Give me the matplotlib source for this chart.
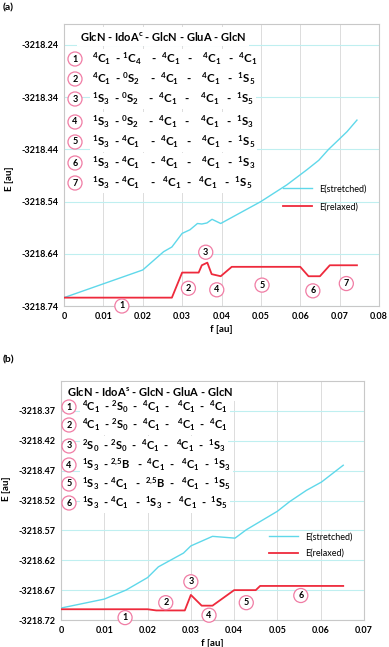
import matplotlib
matplotlib.use("Agg")
import matplotlib.pyplot as plt

plt.rcParams['font.family'] = ['Lato', 'DejaVu Sans']
plt.rcParams['mathtext.default'] = 'regular'

# panel (a)
fa_str = [0, 0.02, 0.0253, 0.0274, 0.030, 0.032, 0.0339, 0.035, 0.0363, 0.0376, 0.0398,
          0.05, 0.0566, 0.0617, 0.0647, 0.0672, 0.0697, 0.0719, 0.0744]
ea_str = [-3218.724, -3218.671, -3218.636, -3218.627, -3218.601, -3218.594, -3218.582,
          -3218.583, -3218.581, -3218.574, -3218.582, -3218.540, -3218.508, -3218.479,
          -3218.461, -3218.440, -3218.422, -3218.406, -3218.384]
fa_rel = [0, 0.0274, 0.030, 0.0342, 0.035, 0.0364, 0.0375, 0.0398, 0.0426, 0.060,
          0.0621, 0.065, 0.0675, 0.0744]
ea_rel = [-3218.724, -3218.724, -3218.676, -3218.676, -3218.662, -3218.657, -3218.679,
          -3218.683, -3218.665, -3218.665, -3218.683, -3218.683, -3218.662, -3218.662]
fa_lab = [0.0147, 0.0316, 0.036, 0.0388, 0.0503, 0.0632, 0.0717]
ea_lab = [-3218.740, -3218.706, -3218.637, -3218.709, -3218.700, -3218.711, -3218.697]
a_head = "GlcN - IdoA$^c$ - GlcN - GluA - GlcN"
a_rows = [
    "$^4$C$_1$  - $^1$C$_4$    -  $^4$C$_1$   -    $^4$C$_1$   -  $^4$C$_1$",
    "$^4$C$_1$  - $^0$S$_2$    -  $^4$C$_1$   -    $^4$C$_1$   -  $^1$S$_5$",
    "$^1$S$_3$  - $^0$S$_2$    -  $^4$C$_1$   -    $^4$C$_1$   -  $^1$S$_5$",
    "$^1$S$_3$  - $^0$S$_2$    -  $^4$C$_1$   -    $^4$C$_1$   -  $^1$S$_3$",
    "$^1$S$_3$  - $^4$C$_1$    -  $^4$C$_1$   -    $^4$C$_1$   -  $^1$S$_5$",
    "$^1$S$_3$  - $^4$C$_1$    -  $^4$C$_1$   -    $^4$C$_1$   -  $^1$S$_3$",
    "$^1$S$_3$  - $^4$C$_1$    -   $^4$C$_1$  -   $^4$C$_1$   -  $^1$S$_5$",
]
a_yticks = [-3218.74, -3218.64, -3218.54, -3218.44, -3218.34, -3218.24]
a_xticks = [0, 0.01, 0.02, 0.03, 0.04, 0.05, 0.06, 0.07, 0.08]

# panel (b)
fb_str = [0, 0.01, 0.015, 0.02, 0.0225, 0.0283, 0.030, 0.035, 0.0402, 0.0428, 0.05,
          0.0528, 0.0567, 0.0602, 0.0652]
eb_str = [-3218.700, -3218.685, -3218.670, -3218.649, -3218.631, -3218.608, -3218.596,
          -3218.580, -3218.583, -3218.569, -3218.538, -3218.522, -3218.503, -3218.489,
          -3218.461]
fb_rel = [0, 0.02, 0.022, 0.0286, 0.030, 0.0325, 0.035, 0.040, 0.045, 0.046, 0.0652]
eb_rel = [-3218.702, -3218.702, -3218.704, -3218.704, -3218.678, -3218.696, -3218.696,
          -3218.670, -3218.670, -3218.663, -3218.663]
fb_lab = [0.0148, 0.0242, 0.030, 0.0342, 0.0428, 0.0554]
eb_lab = [-3218.716, -3218.691, -3218.656, -3218.712, -3218.691, -3218.679]
b_head = "GlcN - IdoA$^s$ - GlcN - GluA - GlcN"
b_rows = [
    "$^4$C$_1$  - $^2$S$_0$  -  $^4$C$_1$  -   $^4$C$_1$  -  $^4$C$_1$",
    "$^4$C$_1$  - $^2$S$_0$  -  $^4$C$_1$  -   $^4$C$_1$  -  $^4$C$_1$",
    "$^2$S$_0$  - $^2$S$_0$  -  $^4$C$_1$  -   $^4$C$_1$  -  $^1$S$_3$",
    "$^1$S$_3$  - $^{2,\\!5}$B   -  $^4$C$_1$  -   $^4$C$_1$  -  $^1$S$_3$",
    "$^1$S$_3$  - $^4$C$_1$   -  $^{2,\\!5}$B  -   $^4$C$_1$  -  $^1$S$_5$",
    "$^1$S$_3$  - $^4$C$_1$   -  $^1$S$_3$  -   $^4$C$_1$  -  $^1$S$_5$",
]
b_yticks = [-3218.72, -3218.67, -3218.62, -3218.57, -3218.52, -3218.47, -3218.42, -3218.37]
b_xticks = [0, 0.01, 0.02, 0.03, 0.04, 0.05, 0.06, 0.07]

CYAN = '#5fd8ea'
RED = '#ee2a3c'
PINK = '#f07ca4'

W, H = 389, 647
fig = plt.figure(figsize=(W / 100, H / 100), dpi=100)


def px_axes(x0, y0, x1, y1):
    return fig.add_axes([x0 / W, 1 - y1 / H, (x1 - x0) / W, (y1 - y0) / H])


def circ(ax, x, y, s, coords='data'):
    tr = ax.transData if coords == 'data' else ax.transAxes
    ax.text(x, y, s, transform=tr, ha='center', va='center', fontsize=6.5,
            fontweight='bold', zorder=5,
            bbox=dict(boxstyle='circle,pad=0.28', fc='white', ec=PINK, lw=0.9))


def setup(ax, xt, yt, xlim, ylim, xfmt, ylpos):
    ax.set_xlim(*xlim)
    ax.set_ylim(*ylim)
    ax.set_xticks(xt)
    ax.set_xticklabels([xfmt(v) for v in xt], fontsize=6.5, fontweight='bold')
    ax.set_yticks(yt)
    ax.set_yticklabels(['%.2f' % v for v in yt], fontsize=6.5, fontweight='bold')
    ax.tick_params(length=0, pad=4)
    ax.xaxis.grid(True, color='#dcdcdc', lw=0.7)
    ax.yaxis.grid(True, color='#bfeff0', lw=0.8)
    ax.set_axisbelow(True)
    for sp in ax.spines.values():
        sp.set_color('#c8c8c8')
        sp.set_linewidth(0.8)
    ax.set_xlabel('f [au]', fontsize=7, fontweight='bold', labelpad=3)
    ax.set_ylabel('E [au]', fontsize=7, fontweight='bold')
    ax.yaxis.set_label_coords(ylpos[0], ylpos[1])


def xf(v):
    return '0' if v == 0 else ('%.2f' % v)


# ---- (a)
ax = px_axes(64, 24, 379, 306)
setup(ax, a_xticks, a_yticks, (0, 0.08), (-3218.74, -3218.20), xf, (-0.16, 0.45))
ax.plot(fa_str, ea_str, color=CYAN, lw=1.0, label='E(stretched)', zorder=3)
ax.plot(fa_rel, ea_rel, color=RED, lw=1.3, label='E(relaxed)', zorder=3)
for i, (x, y) in enumerate(zip(fa_lab, ea_lab)):
    circ(ax, x, y, str(i + 1))
ax.legend(loc='upper left', bbox_to_anchor=(0.67, 0.46), frameon=False, fontsize=6.5,
          handlelength=3.2, labelspacing=1.0)
ax.text(0.315, 0.955, a_head, transform=ax.transAxes, ha='center', va='center',
        fontsize=8, fontweight='bold', zorder=4,
        bbox=dict(fc='white', ec='none', pad=2))
a_ys = [59, 79, 99, 122, 142, 163, 183]
for i, (s, yp) in enumerate(zip(a_rows, a_ys)):
    yy = 1 - (yp - 24) / (306 - 24)
    circ(ax, (75 - 64) / 315, yy, str(i + 1), coords='axes')
    ax.text((92 - 64) / 315, yy, s, transform=ax.transAxes, ha='left', va='center',
            fontsize=8.3, fontweight='bold', zorder=4,
            bbox=dict(fc='white', ec='none', pad=1.5))
fig.text(3 / W, 1 - 8 / H, '(a)', fontsize=7.5, fontweight='bold', va='center')

# ---- (b)
ax = px_axes(61, 381, 364, 620)
setup(ax, b_xticks, b_yticks, (0, 0.07), (-3218.72, -3218.32), xf, (-0.165, 0.55))
ax.plot(fb_str, eb_str, color=CYAN, lw=1.0, label='E(stretched)', zorder=3)
ax.plot(fb_rel, eb_rel, color=RED, lw=1.3, label='E(relaxed)', zorder=3)
for i, (x, y) in enumerate(zip(fb_lab, eb_lab)):
    circ(ax, x, y, str(i + 1))
ax.legend(loc='upper left', bbox_to_anchor=(0.66, 0.40), frameon=False, fontsize=6.5,
          handlelength=3.2, labelspacing=0.8)
ax.text(0.295, 0.955, b_head, transform=ax.transAxes, ha='center', va='center',
        fontsize=8, fontweight='bold', zorder=4,
        bbox=dict(fc='white', ec='none', pad=2))
b_ys = [407, 425, 446, 465, 484, 503]
for i, (s, yp) in enumerate(zip(b_rows, b_ys)):
    yy = 1 - (yp - 381) / (620 - 381)
    circ(ax, (69 - 61) / 303, yy, str(i + 1), coords='axes')
    ax.text((82 - 61) / 303, yy, s, transform=ax.transAxes, ha='left', va='center',
            fontsize=8, fontweight='bold', zorder=4,
            bbox=dict(fc='white', ec='none', pad=1.5))
fig.text(3 / W, 1 - 360 / H, '(b)', fontsize=7.5, fontweight='bold', va='center')

fig.savefig('out.png', dpi=100)
